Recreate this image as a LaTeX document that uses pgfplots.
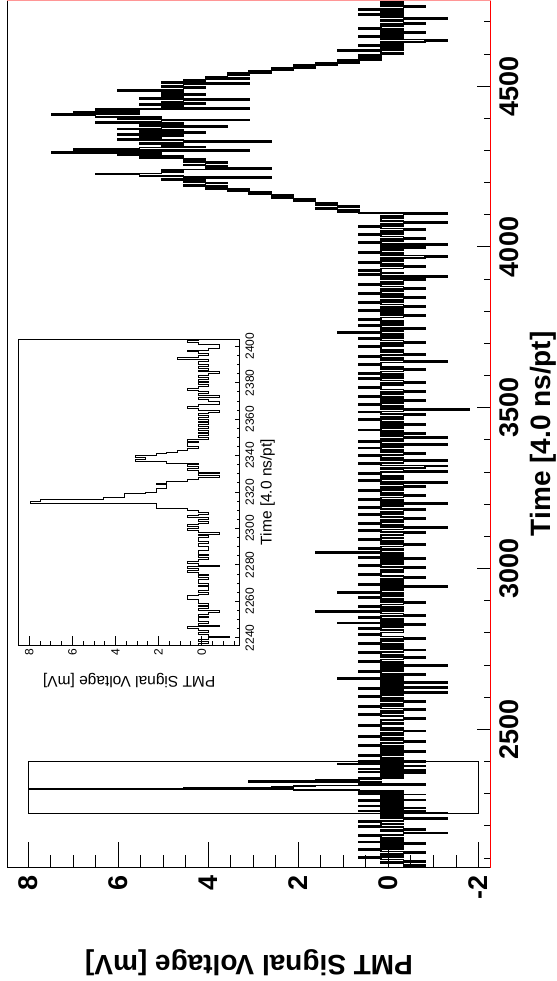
\documentclass[border=0pt]{standalone}
\usepackage{fontspec}
\setmainfont{Liberation Sans}
\usepackage{graphicx}
\usepackage{pgfplots}
\usepackage{pgfplotstable}
\pgfplotsset{compat=1.18}
\definecolor{framepink}{RGB}{255,150,150}

% PMT trace, samples 2068-2236 (4-sample bins), values in mV
\pgfplotstableread[row sep=\\]{
v\\
-0.81\\ -0.33\\ -0.81\\ -0.33\\ 0.16\\ -0.81\\ -0.33\\ 0.16\\ 0.65\\ -0.33\\
0.16\\ -0.33\\ -0.81\\ 0.16\\ 0.65\\ -0.33\\ 0.16\\ -0.33\\ 0.16\\ -0.81\\
0.65\\ -0.33\\ 0.16\\ -0.33\\ 0.16\\ 0.65\\ -0.33\\ -1.30\\ -0.33\\ 0.16\\
-0.81\\ -0.33\\ 0.65\\ 0.16\\ -0.33\\ 0.16\\ 0.65\\ -0.33\\ -1.30\\ 0.16\\
-0.33\\ 0.16\\ 0.16\\
}\traceA

% samples 2236-2405, one value per sample (also shown in the zoom panel)
\pgfplotstableread[row sep=\\]{
v\\
0.16\\ -0.33\\ 0.16\\ -0.33\\ -1.30\\ -0.33\\ 0.16\\ -0.33\\ 0.16\\ 0.65\\
-0.81\\ 0.16\\ -0.33\\ 0.16\\ 0.16\\ -0.33\\ 0.16\\ -0.33\\ -0.81\\ 0.16\\
-0.33\\ 0.16\\ -0.33\\ 0.16\\ 0.16\\ 0.65\\ 0.65\\ 0.16\\ -0.33\\ 0.16\\
-0.33\\ -0.33\\ 0.16\\ -0.33\\ 0.16\\ 0.16\\ -0.33\\ 0.16\\ -0.33\\ 0.16\\
0.65\\ 0.16\\ 0.65\\ -0.81\\ 0.16\\ 0.65\\ 0.16\\ -0.33\\ 0.16\\ -0.33\\
0.16\\ 0.16\\ -0.33\\ -0.33\\ 0.16\\ 0.16\\ -0.33\\ 0.16\\ 0.16\\ -0.33\\
0.16\\ -0.81\\ 0.16\\ 0.65\\ 0.16\\ 0.65\\ 0.16\\ -0.33\\ 0.16\\ -0.33\\
0.65\\ 0.16\\ -0.33\\ 0.16\\ 0.65\\ 2.11\\ 2.11\\ 2.11\\ 7.97\\ 7.48\\
4.55\\ 3.57\\ 3.57\\ 2.60\\ 2.11\\ 2.11\\ 1.62\\ 1.62\\ 2.11\\ 1.62\\
0.65\\ 0.16\\ -0.81\\ 0.16\\ -0.81\\ 0.16\\ 0.65\\ 0.16\\ 0.65\\ 0.16\\
1.62\\ 3.09\\ 2.60\\ 3.09\\ 2.11\\ 1.62\\ 1.13\\ 0.65\\ 0.16\\ 0.65\\
0.65\\ 0.16\\ 0.65\\ -0.33\\ 0.16\\ -0.33\\ 0.16\\ -0.33\\ 0.16\\ -0.33\\
0.16\\ -0.33\\ 0.16\\ -0.33\\ 0.16\\ -0.33\\ 0.16\\ -0.33\\ -0.81\\ 0.16\\
0.65\\ 0.16\\ -0.81\\ -0.81\\ -0.33\\ 0.16\\ -0.81\\ 0.16\\ -0.33\\ 0.16\\
0.65\\ 0.16\\ -0.33\\ 0.16\\ -0.33\\ 0.16\\ -0.33\\ 0.16\\ -0.33\\ -0.81\\
0.16\\ -0.33\\ 0.16\\ -0.33\\ 0.16\\ 0.16\\ -0.33\\ 1.13\\ 0.16\\ -0.33\\
0.16\\ 0.65\\ -0.33\\ -0.81\\ -0.81\\ 0.16\\ 0.65\\ 0.16\\ -0.33\\ 0.16\\
}\traceB

% samples 2405-4769 (4-sample bins)
\pgfplotstableread[row sep=\\]{
v\\
0.16\\ -0.33\\ 0.16\\ 0.65\\ -0.33\\ 0.16\\ -0.81\\ 0.16\\ -0.33\\ 0.16\\ -0.33\\ 0.65\\ 0.16\\ -0.33\\ -0.81\\ 0.16\\ -0.33\\ 0.16\\ 0.65\\ -0.33\\
0.16\\ -0.33\\ -0.81\\ 0.16\\ -0.33\\ 0.16\\ 0.65\\ 0.16\\ -0.33\\ 0.16\\ 0.16\\ -0.33\\ -0.81\\ -0.33\\ 0.16\\ 0.65\\ -0.33\\ 0.16\\ -0.33\\ -0.81\\
0.16\\ 0.65\\ -0.33\\ 0.16\\ -0.33\\ -0.81\\ 0.16\\ -0.33\\ 0.16\\ 0.65\\ -0.33\\ 0.16\\ -1.30\\ 0.16\\ -0.33\\ 0.65\\ -1.30\\ 0.16\\ -0.33\\ 0.16\\
-1.30\\ 0.16\\ -0.33\\ 1.13\\ -0.33\\ 0.16\\ -0.81\\ 0.16\\ 0.65\\ -0.33\\ 0.16\\ -0.33\\ 0.16\\ -1.30\\ 0.16\\ -0.33\\ 0.65\\ 0.16\\ -0.33\\ -0.81\\
0.16\\ -0.33\\ 0.16\\ 0.65\\ -0.33\\ -0.81\\ 0.16\\ -0.33\\ 0.16\\ -0.33\\ 0.65\\ 0.16\\ -0.33\\ 0.16\\ -0.81\\ -0.33\\ 0.16\\ 0.65\\ 0.16\\ -0.33\\
-0.33\\ 0.16\\ 0.65\\ -0.33\\ 0.16\\ -0.81\\ 1.13\\ -0.33\\ 0.16\\ -0.33\\ 0.65\\ 0.16\\ -0.81\\ -0.33\\ 0.16\\ 1.62\\ -0.33\\ 0.16\\ -0.33\\ 0.65\\
0.16\\ -0.33\\ -0.81\\ 0.16\\ -0.33\\ 0.16\\ 0.65\\ -0.33\\ 0.16\\ -0.33\\ 1.13\\ 0.16\\ -0.33\\ 0.16\\ -1.30\\ 0.16\\ 0.65\\ -0.33\\ 0.16\\ -0.33\\
0.16\\ -0.81\\ -0.33\\ 0.16\\ 0.65\\ 0.16\\ -0.33\\ 0.16\\ -0.33\\ -0.81\\ 0.16\\ 0.65\\ -0.33\\ 0.16\\ -0.33\\ 0.16\\ -0.81\\ 0.65\\ -0.33\\ 0.16\\
-0.33\\ 1.62\\ 0.16\\ -0.33\\ 0.65\\ 0.16\\ -0.33\\ -0.81\\ 0.16\\ -0.33\\ 0.16\\ 0.65\\ -0.33\\ 0.16\\ 0.16\\ -0.33\\ -0.81\\ 0.16\\ 0.65\\ -0.33\\
-1.30\\ 0.16\\ -0.33\\ 0.65\\ 0.16\\ -0.33\\ 0.16\\ -0.81\\ -0.33\\ 0.16\\ 0.65\\ -0.33\\ 0.16\\ -0.33\\ -0.81\\ 0.16\\ 0.65\\ -0.33\\ 0.16\\ -1.30\\
0.16\\ -0.33\\ 0.65\\ 0.16\\ -0.33\\ -0.81\\ 0.16\\ -0.33\\ 0.16\\ 0.65\\ -0.33\\ 0.16\\ -0.81\\ -0.33\\ 0.16\\ -1.30\\ 0.16\\ 0.65\\ -0.33\\ 0.16\\
-0.33\\ 0.16\\ 0.65\\ 0.16\\ -1.30\\ -0.33\\ 0.16\\ -0.81\\ -1.30\\ 0.16\\ 0.65\\ -0.33\\ -1.30\\ 0.16\\ -0.33\\ 0.16\\ 0.65\\ -0.33\\ -0.81\\ 0.16\\
-0.33\\ 0.16\\ 0.65\\ -0.33\\ 0.16\\ -1.30\\ 0.16\\ 0.65\\ -0.33\\ 0.16\\ -1.30\\ -0.33\\ 0.16\\ -0.81\\ 0.16\\ -0.33\\ 0.65\\ 0.16\\ -0.33\\ 0.16\\
-0.81\\ 0.16\\ -0.33\\ 0.16\\ 0.65\\ -0.33\\ 0.16\\ -0.33\\ -0.81\\ 0.16\\ 0.65\\ -0.33\\ -1.79\\ 0.16\\ -0.33\\ 0.16\\ 0.65\\ -0.33\\ 0.16\\ -0.81\\
0.16\\ -0.33\\ 0.65\\ 0.16\\ -0.33\\ 0.16\\ -0.81\\ -0.33\\ 0.16\\ 0.65\\ 0.16\\ -0.33\\ 0.16\\ -0.81\\ -0.33\\ 0.16\\ 0.65\\ -0.33\\ 0.16\\ -0.33\\
0.65\\ 0.16\\ -0.33\\ -0.81\\ 0.16\\ -0.33\\ 0.16\\ 0.65\\ 0.16\\ -1.30\\ -0.33\\ 0.16\\ -0.33\\ 0.65\\ 0.16\\ -0.81\\ -0.33\\ 0.16\\ -0.33\\ 0.16\\
0.16\\ 0.65\\ -0.33\\ 0.16\\ -0.81\\ -0.33\\ 0.16\\ 0.65\\ -0.33\\ 0.16\\ -0.33\\ 0.16\\ 1.13\\ -0.33\\ 0.16\\ -0.81\\ 0.16\\ 0.65\\ -0.33\\ 0.16\\
-0.33\\ 0.16\\ 0.65\\ 0.16\\ -0.33\\ -0.81\\ 0.16\\ -0.33\\ 0.16\\ 0.65\\ -0.33\\ 0.16\\ -0.81\\ -0.33\\ 0.16\\ 0.65\\ -0.33\\ 0.16\\ -0.33\\ -0.81\\
0.16\\ -0.33\\ 0.65\\ 0.16\\ -0.33\\ 0.16\\ -0.81\\ -0.33\\ 0.16\\ 0.65\\ -0.33\\ 0.16\\ -0.33\\ -0.81\\ 0.16\\ -1.30\\ 0.16\\ 0.65\\ -0.33\\ 0.16\\
0.65\\ 0.16\\ -0.33\\ -0.81\\ 0.16\\ -0.33\\ 0.65\\ 0.16\\ -0.33\\ 0.16\\ -0.81\\ -1.30\\ 0.16\\ -0.33\\ 0.65\\ 0.16\\ -0.33\\ 0.16\\ -0.81\\ 0.16\\
-1.30\\ 0.16\\ 0.65\\ -0.33\\ 0.16\\ -0.81\\ -0.33\\ 0.16\\ 0.65\\ -0.33\\ 0.16\\ -0.33\\ -0.81\\ 0.16\\ 0.65\\ -0.33\\ 0.16\\ -1.30\\ -0.33\\ 0.16\\
0.16\\ -0.33\\ 0.16\\ -0.33\\ -1.30\\ 0.65\\ 1.13\\ 0.65\\ 1.62\\ 1.13\\ 0.65\\ 1.62\\ 1.13\\ 1.62\\ 2.11\\ 1.62\\ 2.11\\ 2.60\\ 2.11\\ 2.60\\
3.09\\ 2.60\\ 3.57\\ 3.09\\ 4.06\\ 3.57\\ 4.55\\ 4.06\\ 3.57\\ 4.55\\ 4.06\\ 5.04\\ 2.60\\ 4.55\\ 5.53\\ 6.50\\ 5.04\\ 4.55\\ 5.04\\ 2.60\\
4.06\\ 3.57\\ 4.55\\ 4.06\\ 3.57\\ 4.55\\ 4.06\\ 4.55\\ 5.53\\ 4.55\\ 6.01\\ 5.04\\ 7.48\\ 3.09\\ 6.99\\ 5.53\\ 4.06\\ 5.04\\ 4.55\\ 5.53\\
2.60\\ 4.55\\ 6.01\\ 5.04\\ 5.53\\ 4.55\\ 6.01\\ 4.06\\ 5.53\\ 4.55\\ 6.01\\ 5.04\\ 3.57\\ 5.53\\ 4.55\\ 6.50\\ 5.04\\ 3.09\\ 6.01\\ 5.04\\
6.50\\ 7.48\\ 5.53\\ 6.99\\ 5.53\\ 6.50\\ 3.09\\ 5.04\\ 4.55\\ 5.53\\ 4.06\\ 5.04\\ 4.55\\ 3.09\\ 5.53\\ 4.55\\ 5.04\\ 4.06\\ 5.04\\ 4.55\\
6.01\\ 4.55\\ 4.06\\ 5.04\\ 4.55\\ 3.09\\ 5.04\\ 4.06\\ 4.55\\ 3.09\\ 4.06\\ 3.57\\ 3.09\\ 3.57\\ 2.60\\ 3.09\\ 2.11\\ 2.60\\ 1.62\\ 2.11\\
1.13\\ 1.62\\ 0.65\\ 1.13\\ 0.16\\ 0.65\\ 0.16\\ 0.65\\ 0.16\\ -0.33\\ 0.16\\ 1.13\\ -0.33\\ 0.16\\ -0.33\\ 0.65\\ -0.33\\ 0.16\\ -0.81\\ -1.30\\
0.16\\ -0.33\\ 0.65\\ -0.33\\ 0.16\\ -0.81\\ 0.16\\ -0.33\\ 0.65\\ 0.16\\ -0.33\\ 0.16\\ -0.81\\ -0.33\\ 0.16\\ -0.33\\ -1.30\\ 0.16\\ -0.33\\ 0.65\\
-0.33\\ 0.16\\ -0.33\\ 0.65\\ -0.33\\ -0.81\\ 0.16\\ -0.33\\ 0.16\\ -0.33\\ 0.16\\ -0.33\\
}\traceC

\newcommand{\bigtick}{\fontsize{13.5}{16}\selectfont\bfseries}
\newcommand{\bigtitle}{\fontsize{14}{17}\selectfont\bfseries}
\newcommand{\smalltick}{\fontsize{6}{7}\selectfont}
\newcommand{\smalltitle}{\fontsize{7.75}{9}\selectfont}

\begin{document}
\rotatebox{90}{%
\begin{tikzpicture}
\path[use as bounding box] (-56.65pt,-33.15pt) rectangle (433.85pt,245.35pt);
% full trace
\begin{axis}[
  at={(0pt,0pt)}, anchor=south west,
  scale only axis, width=433.85pt, height=241.7pt,
  xmin=2070, xmax=4768, ymin=-2.27, ymax=8.46,
  xtick={2500,3000,3500,4000,4500},
  minor xtick={2100,2200,...,4700},
  ytick={-2,0,2,4,6,8},
  minor ytick={-2,-1.5,...,8},
  tick pos=left, tick align=inside,
  xtick style={/pgfplots/major tick length=6.65pt, /pgfplots/minor tick length=3.35pt, line width=0.5pt, black},
  ytick style={/pgfplots/major tick length=13pt, /pgfplots/minor tick length=6.35pt, line width=0.5pt, black},
  axis line style={line width=0.6pt},
  /pgf/number format/assume math mode=true,
  /pgf/number format/1000 sep={},
  xticklabel style={font=\bigtick, inner sep=0pt, anchor=north, yshift=-4.5pt},
  yticklabel style={font=\bigtick, inner sep=0pt, anchor=east, xshift=-3.65pt},
  xlabel={Time [4.0 ns/pt]},
  ylabel={PMT Signal Voltage [mV]},
  every axis x label/.style={at={(axis description cs:0.5,-0.0813)}, anchor=north, inner sep=0pt, font=\bigtitle},
  every axis y label/.style={at={(axis description cs:-0.0937,0.5)}, rotate=90, anchor=south, inner sep=0pt, font=\bigtitle},
  clip mode=individual,
]
\addplot[const plot, black, line width=0.8pt] table[x expr={2068+4*\coordindex}, y=v] {\traceA};
\addplot[const plot, black, line width=0.8pt] table[x expr={2236+\coordindex}, y=v] {\traceB};
\addplot[const plot, black, line width=0.8pt] table[x expr={2405+4*\coordindex}, y=v] {\traceC};
% zoom window
\addplot[black, line width=0.4pt] coordinates {(2240,-2) (2400,-2) (2400,8) (2240,8) (2240,-2)};
\draw[red, line width=0.7pt] (rel axis cs:0,0) -- (rel axis cs:1,0);
\draw[framepink, line width=1pt] (rel axis cs:1,0) -- (rel axis cs:1,1);
\end{axis}
% zoom panel
\begin{axis}[
  at={(111.35pt,125.35pt)}, anchor=south west,
  scale only axis, width=153pt, height=110.85pt,
  xmin=2236, xmax=2404, ymin=-1.78, ymax=8.51,
  xtick={2240,2260,...,2400},
  minor xtick={2240,2245,...,2400},
  ytick={0,2,4,6,8},
  minor ytick={-1.5,-1,...,8.5},
  tick pos=left, tick align=inside,
  xtick style={/pgfplots/major tick length=2.5pt, /pgfplots/minor tick length=1.35pt, line width=0.4pt, black},
  ytick style={/pgfplots/major tick length=4.5pt, /pgfplots/minor tick length=2pt, line width=0.4pt, black},
  axis line style={line width=0.5pt},
  axis background/.style={fill=white},
  /pgf/number format/assume math mode=true,
  /pgf/number format/1000 sep={},
  xticklabel style={font=\smalltick, inner sep=0pt, anchor=north, yshift=-2.5pt},
  yticklabel style={font=\smalltick, inner sep=0pt, anchor=east, xshift=-1.5pt},
  xlabel={Time [4.0 ns/pt]},
  ylabel={PMT Signal Voltage [mV]},
  every axis x label/.style={at={(axis description cs:0.5,-0.0902)}, anchor=north, inner sep=0pt, font=\smalltitle},
  every axis y label/.style={at={(axis description cs:-0.0915,0.5)}, rotate=90, anchor=south, inner sep=0pt, font=\smalltitle},
]
\addplot[const plot, black, line width=0.35pt] table[x expr={2236+\coordindex}, y=v] {\traceB};
\end{axis}
\end{tikzpicture}}
\end{document}
